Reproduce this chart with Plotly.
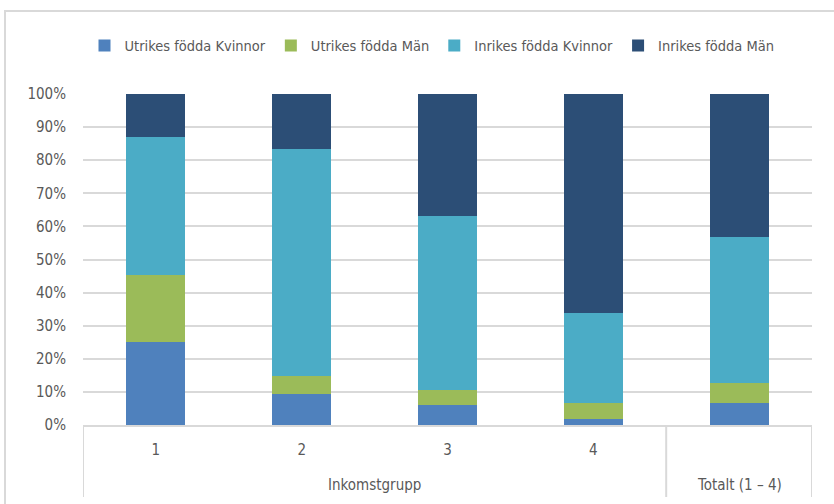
import plotly.graph_objects as go

categories = ["1", "2", "3", "4", "Totalt (1 – 4)"]
group_label = "Inkomstgrupp"
series_names = ["Utrikes födda Kvinnor", "Utrikes födda Män", "Inrikes födda Kvinnor", "Inrikes födda Män"]
utrikes_kvinnor = [25.1, 9.4, 6.0, 1.8, 6.6]
utrikes_man = [20.2, 5.5, 4.7, 4.8, 6.1]
inrikes_kvinnor = [41.7, 68.5, 52.4, 27.2, 44.1]
inrikes_man = [13.0, 16.6, 36.9, 66.2, 43.2]
colors = ["#4F81BD", "#9BBB59", "#4BACC6", "#2C4E76"]

FONT = "DejaVu Sans Condensed, Liberation Sans Narrow, sans-serif"
TXT = "#595959"
GRID = "#D9D9D9"
FS = 15

fig = go.Figure()
for name, vals, c in zip(series_names, [utrikes_kvinnor, utrikes_man, inrikes_kvinnor, inrikes_man], colors):
    fig.add_trace(go.Bar(x=categories, y=vals, name=name, marker=dict(color=c, line=dict(width=0)), width=0.404))

W, H = 834, 504
L, R, T, B = 83, 22, 94, 79
pw, ph = W - L - R, H - T - B

def px_x(p):
    return (p - L) / pw

def px_y(p):
    return (H - B - p) / ph

fig.update_layout(
    width=W, height=H,
    margin=dict(l=L, r=R, t=T, b=B),
    barmode="stack",
    paper_bgcolor="white", plot_bgcolor="white",
    font=dict(family=FONT, color=TXT, size=FS),
    showlegend=True,
    legend=dict(orientation="h", x=px_x(432), xanchor="center", y=px_y(45.5), yanchor="middle",
                font=dict(size=14.5, color=TXT), itemwidth=30, traceorder="normal",
                bgcolor="rgba(0,0,0,0)"),
    xaxis=dict(type="category", categoryorder="array", categoryarray=categories,
               range=[-0.5, 4.5], tickvals=categories[:4], ticktext=categories[:4],
               showgrid=False, showline=True, linecolor=GRID, linewidth=2,
               ticks="", ticklabelstandoff=10, tickfont=dict(size=FS, color=TXT)),
    yaxis=dict(range=[0, 100], dtick=10, ticksuffix="%", showgrid=True, gridcolor=GRID, gridwidth=2,
               zeroline=False, showline=False, ticks="", ticklabelstandoff=16,
               tickfont=dict(size=FS, color=TXT)),
)

# multi-level axis separators
for xv in [-0.5, 3.5, 4.5]:
    fig.add_shape(type="line", xref="x", yref="paper", x0=xv, x1=xv, y0=0, y1=px_y(497),
                  line=dict(color=GRID, width=2))

fig.add_annotation(x=1.5, xref="x", y=px_y(485), yref="paper", text=group_label, showarrow=False,
                   font=dict(size=FS, color=TXT), yanchor="middle")
fig.add_annotation(x=4, xref="x", y=px_y(485), yref="paper", text=categories[4], showarrow=False,
                   font=dict(size=FS, color=TXT), yanchor="middle")

# outer chart border
fig.add_shape(type="rect", xref="paper", yref="paper", x0=px_x(5), x1=px_x(845), y0=px_y(515), y1=px_y(11),
              line=dict(color=GRID, width=2), fillcolor="rgba(0,0,0,0)", layer="below")

fig.write_html("out.html", config={"displayModeBar": False},
               post_script="document.body.style.margin='0';document.body.style.overflow='hidden';")
